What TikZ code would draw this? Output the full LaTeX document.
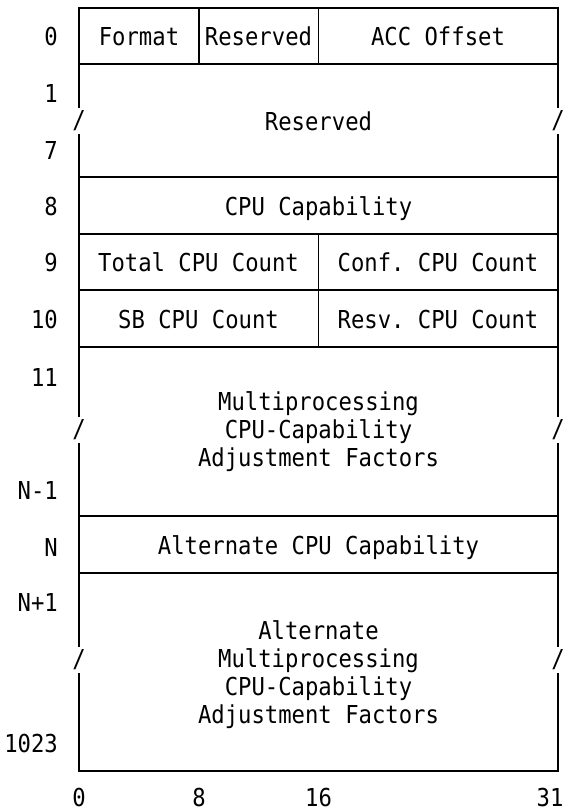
\documentclass[tikz,border=0pt]{standalone}
\usepackage{fontspec}
\setmonofont[FakeStretch=0.9]{DejaVu Sans Mono}
\usepackage{tikz}
\usetikzlibrary{positioning}
\newcommand{\blkfont}{\ttfamily\fontsize{24.7}{28}\selectfont}

\begin{document}
\begin{tikzpicture}[x=1pt, y=-1pt,
    field/.style={font=\blkfont, inner sep=0pt, text height=18pt, text depth=0pt},
    multifield/.style={font=\blkfont, inner sep=0pt, align=center},
    rowlabel/.style={font=\blkfont, inner sep=0pt, anchor=east, text height=18pt, text depth=0pt},
    bitlabel/.style={font=\blkfont, inner sep=0pt, text height=18pt, text depth=0pt},
    brk/.style={font=\blkfont, inner xsep=0pt, inner ysep=3pt, fill=white},
    rule/.style={line width=1.2pt, line cap=rect}]

    \useasboundingbox (0,0) rectangle (566,812);

    % Frame
    \draw[rule] (79,8) rectangle (558,771);
    \draw[rule] (79,64) -- (558,64);
    \draw[rule] (79,177) -- (558,177);
    \draw[rule] (79,234) -- (558,234);
    \draw[rule] (79,290) -- (558,290);
    \draw[rule] (79,347) -- (558,347);
    \draw[rule] (79,516) -- (558,516);
    \draw[rule] (79,573) -- (558,573);
    \draw[rule] (199,8) -- (199,64);
    \draw[rule] (318.5,8) -- (318.5,64);
    \draw[rule] (318.5,234) -- (318.5,347);

    % Breaks in the frame
    \node[brk] (brkRsvL) at (79,121) {/};
    \node[brk] (brkRsvR) at (558,121) {/};
    \node[brk] (brkMpL) at (79,430) {/};
    \node[brk] (brkMpR) at (558,430) {/};
    \node[brk] (brkAltL) at (79,660) {/};
    \node[brk] (brkAltR) at (558,660) {/};

    % Fields
    \node[field] (format) at (139,36) {Format};
    \node[field] (rsvByte) at (258.5,36) {Reserved};
    \node[field] (accOffset) at (438,36) {ACC Offset};
    \node[field] (rsvWords) at (318.5,121) {Reserved};
    \node[field] (cpuCap) at (318.5,206) {CPU Capability};
    \node[field] (totalCpu) at (198.5,262) {Total CPU Count};
    \node[field] (confCpu) at (438,262) {Conf. CPU Count};
    \node[field] (sbCpu) at (198.5,319) {SB CPU Count};
    \node[field] (resvCpu) at (438,319) {Resv. CPU Count};
    \node[multifield] (mpFactors) at (318.5,432) {Multiprocessing\\CPU-Capability\\Adjustment Factors};
    \node[field] (altCap) at (318.5,545) {Alternate CPU Capability};
    \node[multifield] (altFactors) at (318.5,675) {Alternate\\Multiprocessing\\CPU-Capability\\Adjustment Factors};

    % Word offsets
    \node[rowlabel] (w0) at (58,36) {0};
    \node[rowlabel] (w1) at (58,93) {1};
    \node[rowlabel] (w7) at (58,150) {7};
    \node[rowlabel] (w8) at (58,206) {8};
    \node[rowlabel] (w9) at (58,262) {9};
    \node[rowlabel] (w10) at (58,319) {10};
    \node[rowlabel] (w11) at (58,377) {11};
    \node[rowlabel] (wNm) at (58,490) {N-1};
    \node[rowlabel] (wN) at (58,547) {N};
    \node[rowlabel] (wNp) at (58,602) {N+1};
    \node[rowlabel] (wLast) at (58,743) {1023};

    % Bit positions
    \node[bitlabel] (bit0) at (79,797) {0};
    \node[bitlabel] (bit8) at (199,797) {8};
    \node[bitlabel] (bit16) at (318.5,797) {16};
    \node[bitlabel] (bit31) at (550,797) {31};
\end{tikzpicture}
\end{document}
